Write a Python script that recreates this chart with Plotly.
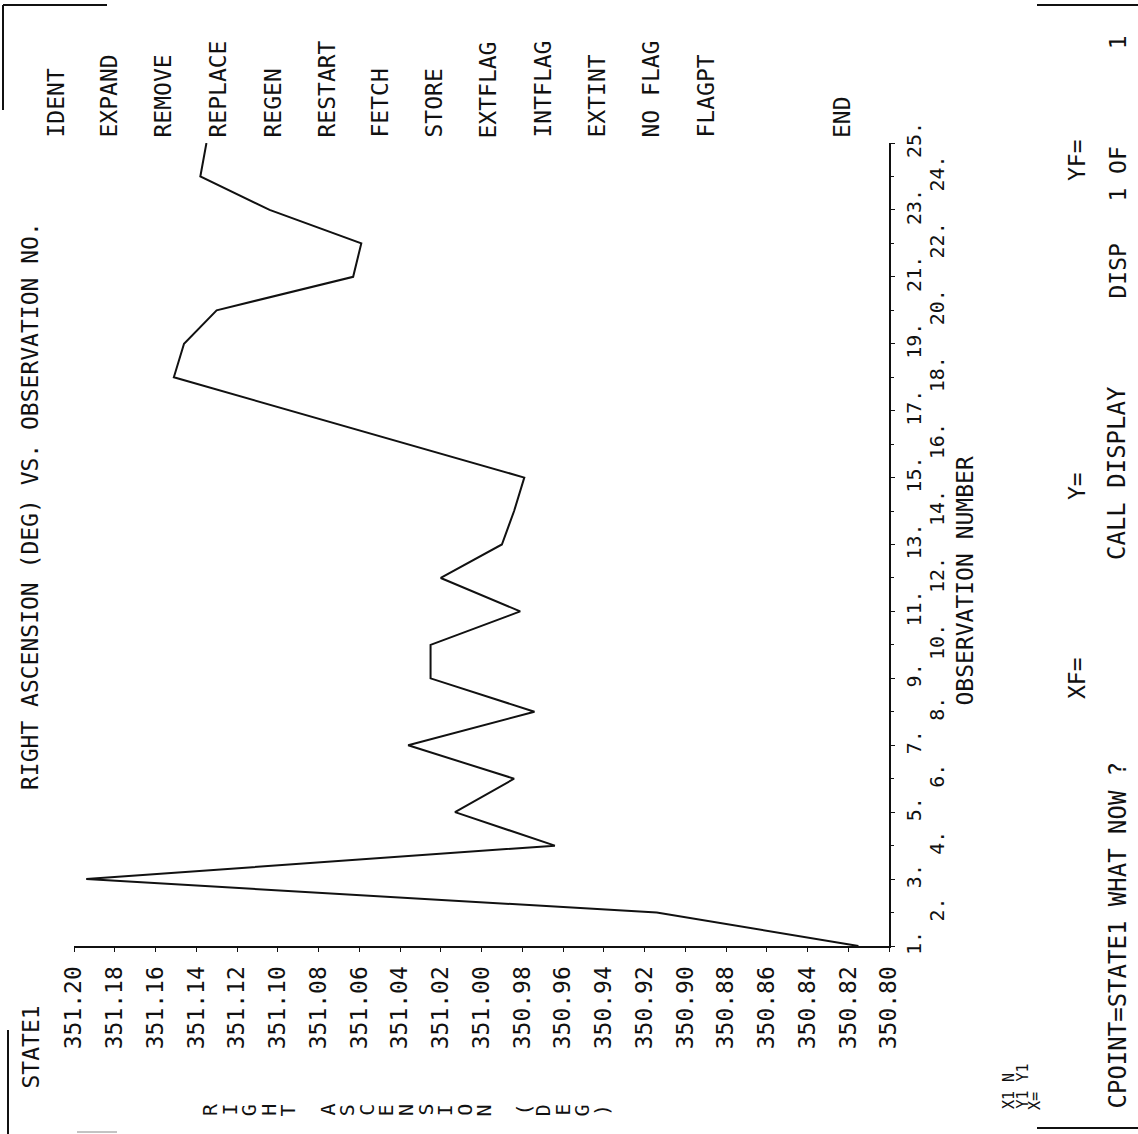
import plotly.graph_objects as go

# ---------------- data ----------------
obs = list(range(1, 26))
ra_deg = [350.815, 350.914, 351.194, 350.964, 351.013, 350.984, 351.036, 350.974,
          351.025, 351.025, 350.981, 351.020, 350.990, 350.984, 350.979, 351.036,
          351.094, 351.151, 351.146, 351.130, 351.063, 351.059, 351.104, 351.138,
          351.135]
ra_tick_vals = [351.20, 351.18, 351.16, 351.14, 351.12, 351.10, 351.08, 351.06,
                351.04, 351.02, 351.00, 350.98, 350.96, 350.94, 350.92, 350.90,
                350.88, 350.86, 350.84, 350.82, 350.80]
ra_tick_text = ["351.20", "351.18", "351.16", "351.14", "351.12", "351.10", "351.08",
                "351.06", "351.04", "351.02", "351.00", "350.98", "350.96", "350.94",
                "350.92", "350.90", "350.88", "350.86", "350.84", "350.82", "350.80"]
obs_tick_text = ["1.", "2.", "3.", "4.", "5.", "6.", "7.", "8.", "9.", "10.", "11.",
                 "12.", "13.", "14.", "15.", "16.", "17.", "18.", "19.", "20.", "21.",
                 "22.", "23.", "24.", "25."]
menu_items = ["IDENT", "EXPAND", "REMOVE", "REPLACE", "REGEN", "RESTART", "FETCH",
              "STORE", "EXTFLAG", "INTFLAG", "EXTINT", "NO FLAG", "FLAGPT", "END"]
title_text = "RIGHT ASCENSION (DEG) VS. OBSERVATION NO."
state_text = "STATE1"
x_title_text = "OBSERVATION NUMBER"
y_title_text = "RIGHT ASCENSION (DEG)"

# ---------------- geometry (pixels) ----------------
W, H = 1138, 1134
PL, PR, PT, PB = 74, 889, 143, 946   # plot area edges in pixels
FONT = "DejaVu Sans Mono"
INK = "#111111"


def fx(px):
    return (px - PL) / (PR - PL)


def fy(py):
    return (PB - py) / (PB - PT)


odd_vals = [o for o in obs if o % 2 == 1]
even_vals = [o for o in obs if o % 2 == 0]
odd_text = [obs_tick_text[o - 1] for o in odd_vals]
even_text = [obs_tick_text[o - 1] for o in even_vals]

fig = go.Figure()
fig.add_trace(go.Scatter(x=ra_deg, y=obs, mode="lines",
                         line=dict(color=INK, width=2),
                         showlegend=False, hoverinfo="skip"))
fig.add_trace(go.Scatter(x=ra_deg, y=obs, yaxis="y2", mode="lines",
                         line=dict(color="rgba(0,0,0,0)", width=0),
                         showlegend=False, hoverinfo="skip"))

ann = []
# menu column (top)
menu_x = [55, 108, 162, 217, 272, 326, 379, 433, 487, 542, 596, 650, 705, 842]
for name, mx in zip(menu_items, menu_x):
    ann.append(dict(x=fx(mx), y=fy(140), text=name, textangle=-90,
                    xanchor="center", yanchor="bottom"))
# title line (left)
ann.append(dict(x=fx(30), y=fy(792), text=title_text, textangle=-90,
                xanchor="center", yanchor="bottom"))
ann.append(dict(x=fx(30), y=fy(1091), text=state_text, textangle=-90,
                xanchor="center", yanchor="bottom"))
# axis title for observation axis
ann.append(dict(x=fx(965), y=fy(707), text=x_title_text, textangle=-90,
                xanchor="center", yanchor="bottom"))
# stacked letters of the RA axis title (one character per row, rotated)
for i, ch in enumerate(y_title_text):
    if ch != " ":
        ann.append(dict(x=fx(210 + i * 19.6), y=fy(1110), text=ch, textangle=-90,
                        xanchor="center", yanchor="middle", font=dict(size=20)))
# status lines
NB = "\u00a0"
ann.append(dict(x=fx(1077), y=fy(701), text="XF=", textangle=-90,
                xanchor="center", yanchor="bottom"))
ann.append(dict(x=fx(1077), y=fy(502), text="Y=", textangle=-90,
                xanchor="center", yanchor="bottom"))
ann.append(dict(x=fx(1077), y=fy(183), text="YF=", textangle=-90,
                xanchor="center", yanchor="bottom"))
ann.append(dict(x=fx(1117), y=fy(1111), text="CPOINT=STATE1 WHAT NOW ?", textangle=-90,
                xanchor="center", yanchor="bottom", font=dict(size=24)))
ann.append(dict(x=fx(1117), y=fy(562), text="CALL DISPLAY", textangle=-90,
                xanchor="center", yanchor="bottom", font=dict(size=24)))
ann.append(dict(x=fx(1117), y=fy(301), text="DISP" + NB * 3 + "1 OF" + NB * 7 + "1",
                textangle=-90, xanchor="center", yanchor="bottom"))
ann.append(dict(x=fx(1009), y=fy(1111), text="X1 N", textangle=-90,
                xanchor="center", yanchor="bottom", font=dict(size=15)))
ann.append(dict(x=fx(1022), y=fy(1111), text="Y1 Y1", textangle=-90,
                xanchor="center", yanchor="bottom", font=dict(size=15)))
ann.append(dict(x=fx(1035), y=fy(1112), text="X=", textangle=-90,
                xanchor="center", yanchor="bottom", font=dict(size=15)))

for a in ann:
    a.update(xref="paper", yref="paper", showarrow=False)
    f = dict(family=FONT, size=23, color=INK)
    f.update(a.get("font", {}))
    a["font"] = f

shapes = []


def seg(x0, y0, x1, y1, w=2, c=INK):
    shapes.append(dict(type="line", xref="paper", yref="paper",
                       x0=fx(x0), y0=fy(y0), x1=fx(x1), y1=fy(y1),
                       line=dict(color=c, width=w)))


seg(3, 5, 107, 5)
seg(3, 5, 3, 110)
seg(1037, 5, 1138, 5)
seg(1037, 1128, 1138, 1128)
seg(8, 1030, 8, 1134)
seg(77, 1132, 117, 1132, w=1, c="#888888")

fig.update_layout(
    width=W, height=H,
    margin=dict(l=PL, r=W - PR, t=PT, b=H - PB, pad=0),
    paper_bgcolor="white", plot_bgcolor="white",
    font=dict(family=FONT, color=INK),
    showlegend=False,
    xaxis=dict(range=[351.20, 350.80], tickvals=ra_tick_vals, ticktext=ra_tick_text,
               tickangle=-90, showline=True, linecolor=INK, linewidth=2,
               ticks="outside", ticklen=4, tickwidth=1, tickcolor=INK,
               showgrid=False, zeroline=False, tickfont=dict(size=23, family=FONT),
               ticklabelstandoff=5),
    yaxis=dict(range=[1, 25], side="right", tickvals=odd_vals, ticktext=odd_text,
               tickangle=-90, showline=True, linecolor=INK, linewidth=2,
               ticks="outside", ticklen=4, tickwidth=1, tickcolor=INK,
               showgrid=False, zeroline=False, tickfont=dict(size=20, family=FONT),
               ticklabelstandoff=2),
    yaxis2=dict(range=[1, 25], side="right", overlaying="y", tickvals=even_vals,
                ticktext=even_text, tickangle=-90, showline=False,
                ticks="outside", ticklen=4, tickwidth=1, tickcolor=INK,
                showgrid=False, zeroline=False, tickfont=dict(size=20, family=FONT),
                ticklabelstandoff=26),
    annotations=ann,
    shapes=shapes,
)

fig.write_html("out.html")
